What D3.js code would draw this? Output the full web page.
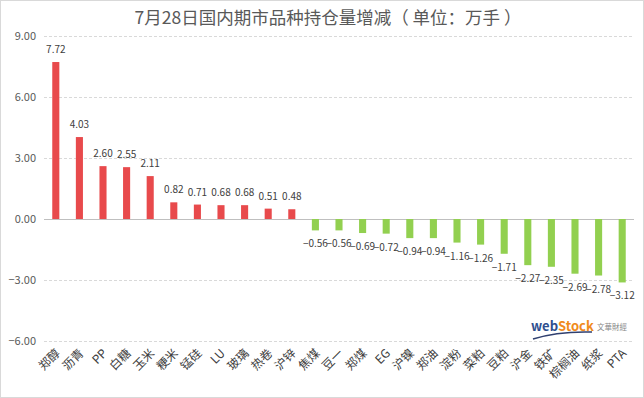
<html>
<head>
    <meta charset="utf-8">
    <script src="https://d3js.org/d3.v7.min.js"></script>
    <style>
        body { margin: 0; background: #fff; }
        text { font-family: "Microsoft YaHei", "Noto Sans CJK SC", sans-serif; }
    </style>
</head>
<body>
    <svg id="svg" width="644" height="398"></svg>

    <script>
        // DATA
        const names = ["郑醇", "沥青", "PP", "白糖", "玉米", "粳米", "锰硅", "LU", "玻璃", "热卷", "沪锌", "焦煤", "豆一",
            "郑煤", "EG", "沪镍", "郑油", "淀粉", "菜粕", "豆粕", "沪金", "铁矿", "棕榈油", "纸浆", "PTA"]
        const values = [7.72, 4.03, 2.60, 2.55, 2.11, 0.82, 0.71, 0.68, 0.68, 0.51, 0.48, -0.56, -0.56,
            -0.69, -0.72, -0.94, -0.94, -1.16, -1.26, -1.71, -2.27, -2.35, -2.69, -2.78, -3.12]
        const yTicks = [9, 6, 3, 0, -3, -6]
        const title = "7月28日国内期市品种持仓量增减（ 单位：万手 ）"

        const W = 644, H = 398
        const svg = d3.select("#svg")

        // frame
        svg.append("rect").attr("x", 0.5).attr("y", 0.5).attr("width", W - 1).attr("height", H - 1)
            .attr("fill", "#fff").attr("stroke", "#d9d9d9")

        const x = d3.scaleBand().domain(names).range([44, 634]).paddingInner(0.7).paddingOuter(0.35)
        const y = d3.scaleLinear().domain([-6, 9]).range([341, 36])

        // title
        svg.append("text").attr("x", 328).attr("y", 24).attr("text-anchor", "middle")
            .attr("font-size", 17.5).attr("fill", "#595959").text(title)

        // grid
        const grid = svg.append("g")
        grid.selectAll("line").data(yTicks).enter().append("line")
            .attr("x1", 44).attr("x2", 634)
            .attr("y1", d => Math.round(y(d)) + 0.5).attr("y2", d => Math.round(y(d)) + 0.5)
            .attr("stroke", d => d === 0 ? "#bfbfbf" : "#d9d9d9")
            .attr("stroke-dasharray", d => d === 0 ? null : "3,2")

        // y labels
        svg.append("g").selectAll("text").data(yTicks).enter().append("text")
            .attr("x", 36).attr("y", d => y(d) + 4).attr("text-anchor", "end")
            .attr("font-size", 11).attr("fill", "#595959")
            .text(d => d3.format(".2f")(d))

        // bars
        svg.append("g").selectAll("rect").data(values).enter().append("rect")
            .attr("x", (d, i) => x(names[i]))
            .attr("width", x.bandwidth())
            .attr("y", d => y(Math.max(0, d)))
            .attr("height", d => Math.abs(y(d) - y(0)))
            .attr("fill", d => d >= 0 ? "#e84a4c" : "#92d050")

        // value labels
        svg.append("g").selectAll("text").data(values).enter().append("text")
            .attr("x", (d, i) => x(names[i]) + x.bandwidth() / 2)
            .attr("y", d => d >= 0 ? y(d) - 9 : y(d) + 17)
            .attr("text-anchor", "middle")
            .attr("font-size", 10).attr("fill", "#404040")
            .text(d => d3.format(".2f")(d))

        // x labels
        svg.append("g").selectAll("text").data(names).enter().append("text")
            .attr("transform", d => `translate(${x(d) + x.bandwidth() / 2 + 5},${354}) rotate(-45)`)
            .attr("text-anchor", "end")
            .attr("font-size", 12).attr("fill", "#404040")
            .text(d => d)

        // logo
        const logo = svg.append("g")
        logo.append("text").attr("x", 531).attr("y", 331).attr("font-size", 13).attr("font-weight", "bold")
            .attr("font-family", "Arial, sans-serif")
            .html('<tspan fill="#2f4f8f">web</tspan><tspan fill="#f08a1c">Stock</tspan>')
        logo.append("path").attr("d", "M533,339 Q558,331 592,332").attr("fill", "none")
            .attr("stroke", "#2f3f6f").attr("stroke-width", 1.5)
        logo.append("text").attr("x", 597).attr("y", 330).attr("font-size", 7.5).attr("fill", "#888")
            .text("文華財經")
    </script>
</body>
</html>
